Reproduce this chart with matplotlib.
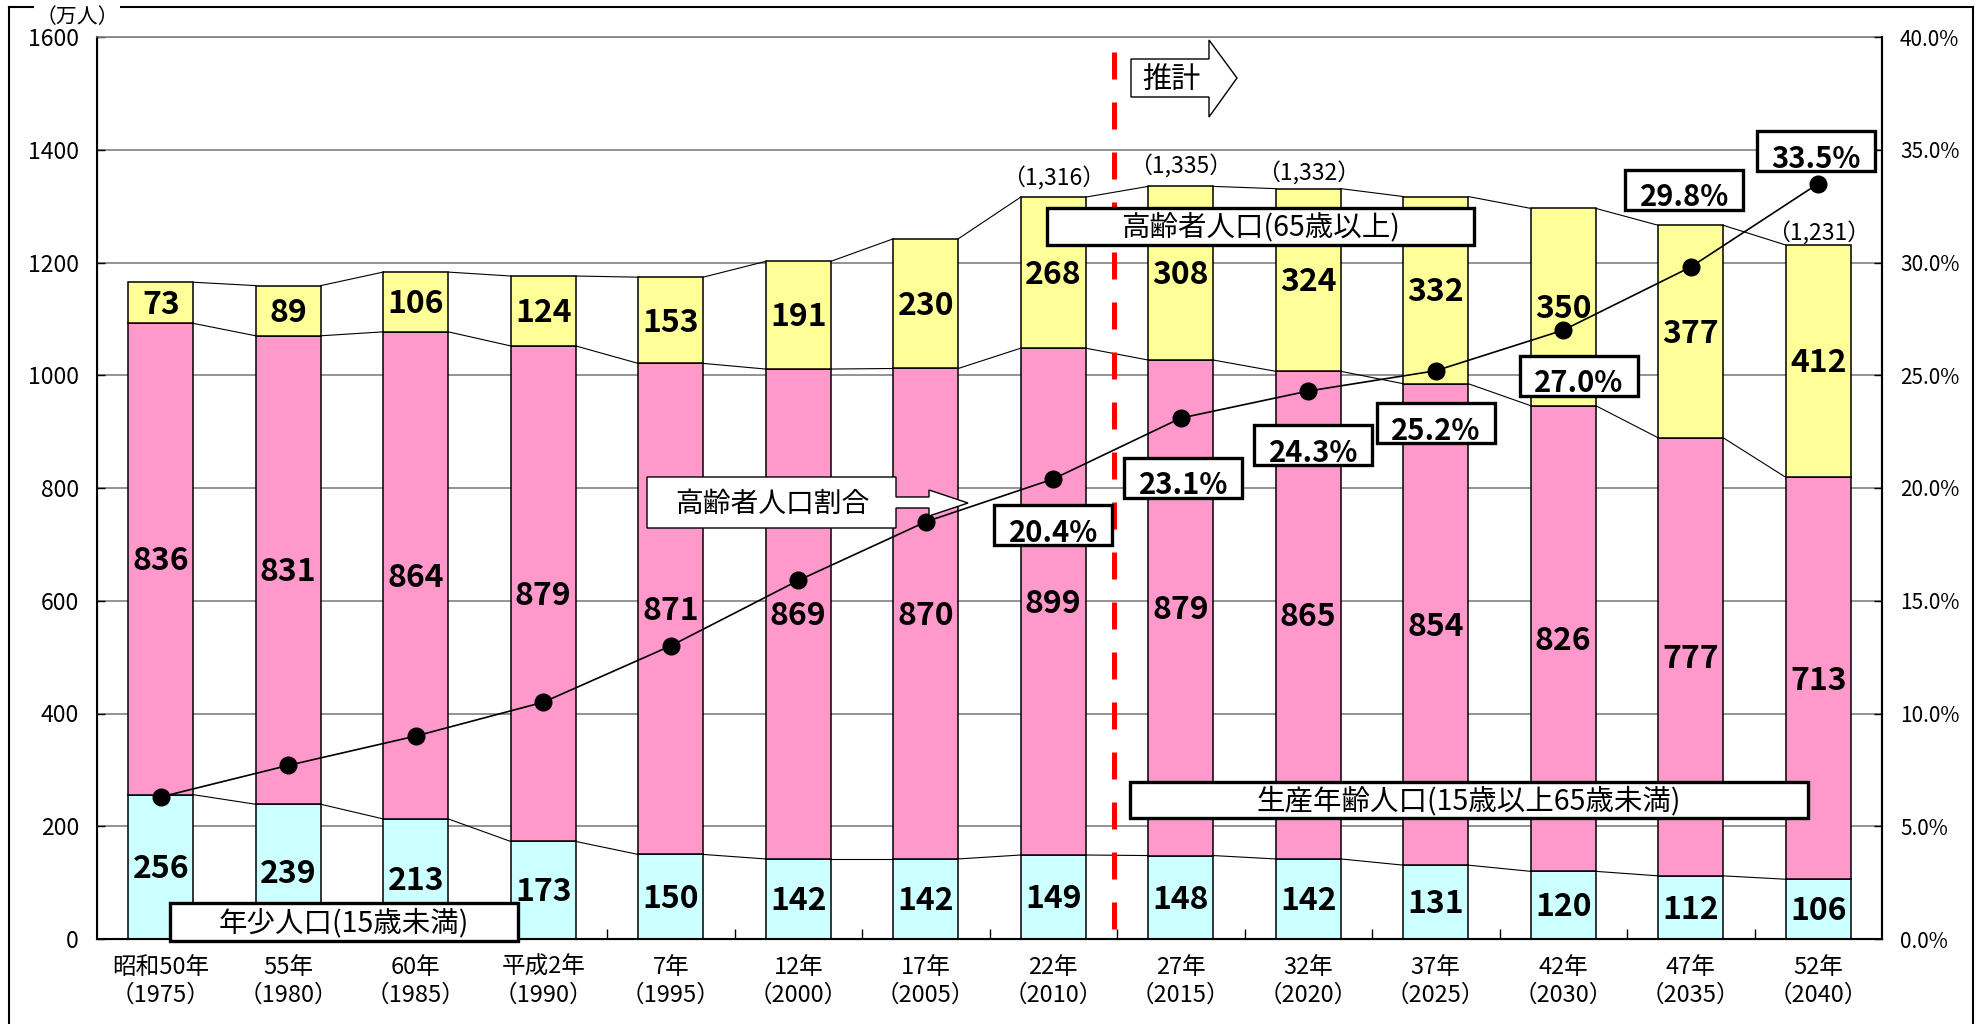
import matplotlib
matplotlib.use('Agg')
import matplotlib.pyplot as plt
from matplotlib.patches import Rectangle, Polygon
from matplotlib.lines import Line2D
import numpy as np

plt.rcParams['font.family'] = ['Noto Sans CJK JP', 'DejaVu Sans']

# ---------------- data ----------------
era_labels = ['昭和50年', '55年', '60年', '平成2年', '7年', '12年', '17年',
              '22年', '27年', '32年', '37年', '42年', '47年', '52年']
year_labels = ['1975', '1980', '1985', '1990', '1995', '2000', '2005',
               '2010', '2015', '2020', '2025', '2030', '2035', '2040']
young = [256, 239, 213, 173, 150, 142, 142, 149, 148, 142, 131, 120, 112, 106]
working = [836, 831, 864, 879, 871, 869, 870, 899, 879, 865, 854, 826, 777, 713]
elderly = [73, 89, 106, 124, 153, 191, 230, 268, 308, 324, 332, 350, 377, 412]
ratio = [6.3, 7.7, 9.0, 10.5, 13.0, 15.9, 18.5, 20.4, 23.1, 24.3, 25.2, 27.0, 29.8, 33.5]
total_label_idx = [7, 8, 9, 13]
total_label_val = [1316, 1335, 1332, 1231]
pct_label_idx = [7, 8, 9, 10, 11, 12, 13]

# ---------------- layout ----------------
W, H = 1977, 1024
L, R, T, B = 97, 1882, 37, 939
total_label_dy = [32, 35, 27, 20]
pct_box_dx = [0.0, 0.02, 0.04, 0.0, 0.12, -0.05, -0.02]
pct_box_y = [734, 818, 876, 915, 999, 1329, 1398]

fig = plt.figure(figsize=(W / 100, H / 100), dpi=100)
ax = fig.add_axes([L / W, 1 - B / H, (R - L) / W, (B - T) / H])

def P(x, y):
    return (x / W, 1 - y / H)

n = len(young)
x = np.arange(n)
bw = 0.51
yg = np.array(young)
wk = np.array(working)
el = np.array(elderly)
lev1 = yg
lev2 = yg + wk
lev3 = lev2 + el

ax.bar(x, yg, bw, color='#CCFFFF', edgecolor='black', linewidth=1.1, zorder=2)
ax.bar(x, wk, bw, bottom=lev1, color='#FF99CC', edgecolor='black', linewidth=1.1, zorder=2)
ax.bar(x, el, bw, bottom=lev2, color='#FFFF99', edgecolor='black', linewidth=1.1, zorder=2)

# series lines
for lev in (lev1, lev2, lev3):
    for i in range(n - 1):
        ax.plot([i + bw / 2, i + 1 - bw / 2], [lev[i], lev[i + 1]],
                color='black', lw=0.8, zorder=3)

# bar value labels
lab_kw = dict(ha='center', va='center', fontsize=23, fontweight='bold', zorder=6)
for i in range(n):
    ax.text(i, yg[i] / 2 - 4, f'{young[i]}', **lab_kw)
    ax.text(i, lev1[i] + wk[i] / 2 - 4, f'{working[i]}', **lab_kw)
    ax.text(i, lev2[i] + el[i] / 2 - 4, f'{elderly[i]}', **lab_kw)

# red dashed boundary
xv = 7.476
ax.plot([xv, xv], [1573, 0], color='#FF0000', lw=3.6,
        linestyle=(0, (5.4, 4.6)), zorder=4, solid_capstyle='butt', dash_capstyle='butt')

ax.set_xlim(-0.5, n - 0.5)
ax.set_ylim(0, 1600)
ax.set_yticks(range(0, 1601, 200))
ax.set_yticklabels([str(v) for v in range(0, 1601, 200)], fontsize=16.5)
ax.set_xticks(x)
ax.set_xticklabels([f'{e}\n（{y}）' for e, y in zip(era_labels, year_labels)],
                   fontsize=17, linespacing=1.3)
ax.set_xticks(np.arange(0.5, n - 1, 1.0), minor=True)
ax.tick_params(axis='x', which='major', length=0, pad=12)
ax.tick_params(axis='x', which='minor', length=7, direction='in', width=1)
ax.tick_params(axis='y', direction='in', length=6, width=1, pad=13)
ax.yaxis.grid(True, color='#808080', lw=1.2)
ax.set_axisbelow(True)
for s in ('left', 'bottom', 'right'):
    ax.spines[s].set_color('black')
    ax.spines[s].set_linewidth(1.5)
ax.spines['top'].set_color('#808080')
ax.spines['top'].set_linewidth(1.2)

# right axis / ratio line
ax2 = ax.twinx()
ax2.set_ylim(0, 40)
ax2.set_yticks(range(0, 41, 5))
ax2.set_yticklabels([f'{v:.1f}%' for v in range(0, 41, 5)], fontsize=15)
ax2.tick_params(axis='y', direction='in', length=6, width=1, pad=13)
ax2.spines['right'].set_color('black')
ax2.spines['right'].set_linewidth(1.5)
ax2.spines['top'].set_visible(False)
ax2.plot(x, ratio, color='black', lw=1.2, marker='o', ms=12,
         mfc='black', mec='black', zorder=5)

# total labels
for i, v, dy in zip(total_label_idx, total_label_val, total_label_dy):
    ax2.text(i, lev3[i] + dy, f'（{v:,}）', transform=ax.transData,
             ha='center', va='center', fontsize=16.5, zorder=6)

# percentage boxes
bwid, bhgt = 0.925, 71
for k, i in enumerate(pct_label_idx):
    cx = i + pct_box_dx[k]
    cy = pct_box_y[k]
    ax2.add_patch(Rectangle((cx - bwid / 2, cy - bhgt / 2), bwid, bhgt,
                            transform=ax.transData, fc='white', ec='black',
                            lw=2.4, zorder=10, clip_on=False))
    ax2.text(cx, cy - bhgt / 2 + 6, f'{ratio[i]:.1f}%', transform=ax.transData,
             ha='center', va='baseline', fontsize=21, fontweight='bold',
             zorder=11, clip_on=False)

# text boxes (pixel layout)
def pixbox(x0, y0, x1, y1, text, fs, lw=2.4):
    p0 = P(x0, y1)
    p1 = P(x1, y0)
    fig.add_artist(Rectangle(p0, p1[0] - p0[0], p1[1] - p0[1], transform=fig.transFigure,
                             fc='white', ec='black', lw=lw, zorder=20))
    c = P((x0 + x1) / 2, (y0 + y1) / 2 + 1)
    fig.text(c[0], c[1], text, ha='center', va='center', fontsize=fs, zorder=21)

pixbox(170, 903, 518, 941, '年少人口(15歳未満)', 20.5)
pixbox(1130, 782, 1808, 818, '生産年齢人口(15歳以上65歳未満)', 20.5)
pixbox(1047, 208, 1474, 245, '高齢者人口(65歳以上)', 20.5)

# arrow: 高齢者人口割合
arr1 = [(647, 477), (896, 477), (896, 497), (929, 497), (929, 490), (968, 503),
        (929, 516), (929, 508), (896, 508), (896, 528), (647, 528)]
fig.add_artist(Polygon([P(*p) for p in arr1], closed=True, transform=fig.transFigure,
                       fc='white', ec='black', lw=1.0, zorder=20))
c = P(772, 504)
fig.text(c[0], c[1], '高齢者人口割合', ha='center', va='center', fontsize=20, zorder=21)

# arrow: 推計
arr2 = [(1131, 59), (1209, 59), (1209, 40), (1237, 78), (1209, 117), (1209, 97), (1131, 97)]
fig.add_artist(Polygon([P(*p) for p in arr2], closed=True, transform=fig.transFigure,
                       fc='white', ec='black', lw=1.0, zorder=20))
c = P(1171, 80)
fig.text(c[0], c[1], '推計', ha='center', va='center', fontsize=21, zorder=21)

# outer frame
fr = dict(transform=fig.transFigure, color='black', lw=1.5, zorder=15)
fig.add_artist(Line2D([P(9, 7)[0], P(1973, 7)[0]], [P(9, 7)[1], P(1973, 7)[1]], **fr))
fig.add_artist(Line2D([P(9, 7)[0], P(9, 1030)[0]], [P(9, 7)[1], P(9, 1030)[1]], **fr))
fig.add_artist(Line2D([P(1973, 7)[0], P(1973, 1030)[0]], [P(1973, 7)[1], P(1973, 1030)[1]], **fr))
c = P(77, 17)
fig.text(c[0], c[1], '（万人）', ha='center', va='center', fontsize=15, zorder=22,
         bbox=dict(fc='white', ec='none', pad=1))

fig.savefig('out.png', dpi=100)
